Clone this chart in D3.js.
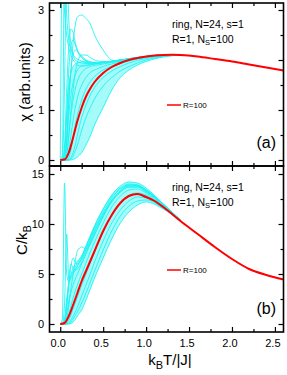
<!DOCTYPE html>
<html><head><meta charset="utf-8">
<script src="https://cdn.jsdelivr.net/npm/d3@7"></script>
<style>body{margin:0;background:#fff}svg{display:block}text{font-family:"Liberation Sans",Arial,sans-serif;fill:#000}</style>
</head><body><svg id="c" width="287" height="375"></svg>
<script>
// ---------- data ----------
const xTicks = [0, 0.5, 1.0, 1.5, 2.0, 2.5];
const xTickLabels = ["0.0", "0.5", "1.0", "1.5", "2.0", "2.5"];
const chiTicks = [0, 1, 2, 3];
const cTicks = [0, 5, 10, 15];

// red average curves (R=100)
const redChiT = [0, 0.05, 0.1, 0.15, 0.2, 0.25, 0.3, 0.35, 0.4, 0.5, 0.6, 0.7, 0.8, 0.9, 1.0, 1.1, 1.2, 1.3, 1.4, 1.6, 1.8, 2.0, 2.2, 2.4, 2.6];
const redChi  = [0, 0.01, 0.15, 0.45, 0.78, 1.05, 1.27, 1.43, 1.56, 1.74, 1.86, 1.94, 2.0, 2.04, 2.07, 2.09, 2.1, 2.105, 2.1, 2.07, 2.02, 1.97, 1.91, 1.85, 1.79];
const redCT = [0, 0.05, 0.1, 0.15, 0.2, 0.25, 0.3, 0.4, 0.5, 0.6, 0.7, 0.8, 0.9, 1.0, 1.1, 1.2, 1.4, 1.6, 1.8, 2.0, 2.2, 2.4, 2.6];
const redC  = [0, 0.1, 0.8, 1.9, 3.1, 4.3, 5.3, 7.3, 9.3, 10.9, 12.1, 12.8, 13.0, 12.7, 12.3, 11.7, 10.3, 9.0, 7.7, 6.5, 5.5, 4.9, 4.45];

// cyan single realisations (R=1), sampled on a shared temperature grid
const cyanT = [0, .025, .05, .075, .1, .125, .15, .175, .2, .25, .3, .35, .4, .5, .6, .7, .8, .9, 1.0, 1.2, 1.4];
const chiEnvLow  = [0, 0, 0, 0, 0, 0, 0.01, 0.03, 0.06, 0.15, 0.3, 0.48, 0.7, 1.05, 1.4, 1.65, 1.8, 1.9, 1.97, 2.06, 2.1];
const chiEnvHigh = [0, 0, 0.2, 0.9, 1.5, 1.75, 1.87, 1.92, 1.95, 1.96, 1.95, 1.94, 1.94, 1.95, 1.97, 1.99, 2.02, 2.04, 2.07, 2.1, 2.1];
const chiCyan = [
  [0, 0.1, 4.0, 2.9, 2.4, 2.2, 2.1, 2.05, 2.02, 1.98, 1.96, 1.95, 1.95, 1.96, 1.98, 2.0, 2.03, 2.05, 2.07, 2.1, 2.1],
  [0, 0, 1.5, 4.0, 2.8, 2.3, 2.1, 2.0, 1.97, 1.94, 1.93, 1.93, 1.94, 1.95, 1.97, 2.0, 2.02, 2.05, 2.07, 2.1, 2.1],
  [0, 4.0, 3.0, 2.5, 2.25, 2.1, 2.0, 1.95, 1.9, 1.88, 1.88, 1.9, 1.92, 1.95, 1.97, 2.0, 2.02, 2.05, 2.07, 2.1, 2.1],
  [0, 0, 0.05, 0.4, 1.2, 1.8, 2.35, 2.7, 2.86, 2.9, 2.83, 2.72, 2.5, 2.2, 2.0, 1.97, 2.0, 2.03, 2.06, 2.1, 2.1],
  [0, 0, 0.3, 1.4, 2.3, 2.62, 2.55, 2.35, 2.2, 2.05, 1.98, 1.95, 1.94, 1.95, 1.97, 2.0, 2.02, 2.05, 2.07, 2.1, 2.1],
  [0, 0, 0.1, 0.9, 1.8, 2.3, 2.4, 2.3, 2.18, 2.05, 1.98, 1.95, 1.94, 1.95, 1.97, 2.0, 2.02, 2.05, 2.07, 2.1, 2.1],
  [0, 0, 0, 0.4, 1.2, 1.8, 2.1, 2.2, 2.17, 2.08, 2.0, 1.97, 1.95, 1.95, 1.97, 2.0, 2.02, 2.05, 2.07, 2.1, 2.1],
  [0, 0, 0, 0.1, 0.5, 1.0, 1.4, 1.75, 1.95, 2.1, 2.1, 2.05, 2.0, 1.97, 1.97, 2.0, 2.02, 2.05, 2.07, 2.1, 2.1],
  [0, 0, 0.2, 0.9, 1.5, 1.75, 1.87, 1.92, 1.95, 1.96, 1.95, 1.94, 1.94, 1.95, 1.97, 1.99, 2.02, 2.04, 2.07, 2.1, 2.1],
  [0, 0, 0.02, 0.3, 0.9, 1.3, 1.55, 1.7, 1.8, 1.88, 1.9, 1.91, 1.92, 1.94, 1.96, 1.99, 2.02, 2.04, 2.06, 2.09, 2.1],
  [0, 0, 0, 0.1, 0.5, 0.9, 1.2, 1.42, 1.58, 1.75, 1.83, 1.87, 1.89, 1.92, 1.95, 1.98, 2.01, 2.04, 2.06, 2.09, 2.1],
  [0, 0, 0, 0.02, 0.2, 0.5, 0.8, 1.05, 1.25, 1.5, 1.65, 1.75, 1.8, 1.87, 1.92, 1.96, 2.0, 2.03, 2.06, 2.09, 2.1],
  [0, 0, 0, 0, 0.05, 0.2, 0.45, 0.7, 0.9, 1.2, 1.42, 1.57, 1.67, 1.8, 1.88, 1.93, 1.98, 2.02, 2.05, 2.09, 2.1],
  [0, 0, 0, 0, 0, 0.05, 0.15, 0.3, 0.5, 0.85, 1.1, 1.3, 1.45, 1.65, 1.78, 1.87, 1.94, 1.99, 2.03, 2.08, 2.1],
  [0, 0, 0, 0, 0, 0, 0.01, 0.03, 0.06, 0.15, 0.3, 0.48, 0.7, 1.05, 1.4, 1.65, 1.8, 1.9, 1.97, 2.06, 2.1],
  [0, 0, 0, 0, 0, 0.02, 0.08, 0.18, 0.3, 0.6, 0.85, 1.05, 1.22, 1.48, 1.65, 1.78, 1.87, 1.94, 2.0, 2.07, 2.1]
];
const cEnvLow  = [0, 0, 0, 0, 0, 0.05, 0.2, 0.45, 0.8, 1.4, 2.4, 3.5, 4.6, 6.6, 8.5, 10.1, 11.2, 11.9, 12.2, 11.5, 10.3];
const cEnvHigh = [0, 0, 0.5, 2.5, 4.0, 4.8, 5.3, 5.7, 6.1, 6.8, 7.8, 8.8, 9.8, 11.5, 12.9, 13.8, 14.2, 14.1, 13.6, 12.0, 10.4];
const cCyan = [
  [0, 0.5, 14.1, 5.0, 4.2, 4.6, 5.0, 5.4, 5.8, 6.6, 7.6, 8.6, 9.6, 11.2, 12.6, 13.5, 13.9, 13.8, 13.4, 12.0, 10.4],
  [0, 0, 2.0, 9.0, 4.5, 5.0, 5.6, 6.0, 6.3, 6.8, 7.8, 8.8, 9.8, 11.5, 12.8, 13.6, 14.0, 13.9, 13.4, 12.0, 10.4],
  [0, 0, 0.3, 2.0, 4.0, 5.8, 6.6, 6.2, 6.0, 6.5, 7.4, 8.4, 9.4, 11.0, 12.4, 13.3, 13.8, 13.8, 13.3, 11.9, 10.4],
  [0, 0, 0, 0.5, 1.8, 3.5, 5.0, 6.3, 7.3, 7.7, 7.5, 8.0, 8.9, 10.7, 12.2, 13.2, 13.7, 13.7, 13.2, 11.9, 10.4],
  [0, 0, 0.2, 1.5, 4.5, 6.0, 5.6, 5.4, 5.5, 6.2, 7.2, 8.2, 9.2, 10.9, 12.3, 13.2, 13.7, 13.7, 13.3, 11.9, 10.4],
  [0, 0, 0.5, 2.5, 4.0, 4.8, 5.3, 5.7, 6.1, 6.8, 7.8, 8.8, 9.8, 11.5, 12.9, 13.8, 14.2, 14.1, 13.6, 12.0, 10.4],
  [0, 0, 0.1, 1.0, 2.3, 3.2, 3.9, 4.5, 5.0, 6.0, 7.0, 8.0, 9.0, 10.8, 12.3, 13.3, 13.9, 13.9, 13.4, 11.9, 10.4],
  [0, 0, 0, 0.3, 1.0, 1.8, 2.6, 3.3, 3.9, 5.0, 6.1, 7.2, 8.2, 10.1, 11.7, 12.8, 13.4, 13.5, 13.1, 11.8, 10.4],
  [0, 0, 0, 0.05, 0.4, 0.9, 1.5, 2.1, 2.7, 3.9, 5.0, 6.1, 7.2, 9.2, 10.9, 12.1, 12.9, 13.1, 12.9, 11.7, 10.4],
  [0, 0, 0, 0, 0.1, 0.4, 0.8, 1.2, 1.7, 2.8, 3.9, 5.0, 6.2, 8.3, 10.1, 11.4, 12.3, 12.7, 12.6, 11.6, 10.3],
  [0, 0, 0, 0, 0, 0.05, 0.2, 0.45, 0.8, 1.4, 2.4, 3.5, 4.6, 6.6, 8.5, 10.1, 11.2, 11.9, 12.2, 11.5, 10.3],
  [0, 0, 0, 0, 0.02, 0.2, 0.5, 0.85, 1.2, 2.1, 3.1, 4.2, 5.3, 7.4, 9.3, 10.8, 11.8, 12.3, 12.4, 11.6, 10.3]
];
const annot1 = "ring, N=24, s=1";
const legendLabel = "R=100";

// ---------- layout ----------
const svg = d3.select("#c");
const L = 49.5, R = 283.5;
const x = d3.scaleLinear().domain([-0.125, 2.6]).range([L, R]);
const panels = [
  {top: 3, bottom: 166, y: d3.scaleLinear().domain([-0.12, 3.14]).range([166, 3]),
   ticks: chiTicks, minor: 0.5, env: [chiEnvLow, chiEnvHigh], cyan: chiCyan, redT: redChiT, red: redChi, tag: "(a)", id: "a"},
  {top: 166, bottom: 332, y: d3.scaleLinear().domain([-0.8, 15.8]).range([332, 166]),
   ticks: cTicks, minor: 2.5, env: [cEnvLow, cEnvHigh], cyan: cCyan, redT: redCT, red: redC, tag: "(b)", id: "b"}
];
const cyanCol = "#1ff3f3";

panels.forEach(p => {
  const y = p.y;
  const g = svg.append("g");
  g.append("clipPath").attr("id", "clip" + p.id).append("rect")
    .attr("x", L).attr("y", p.top).attr("width", R - L).attr("height", p.bottom - p.top);
  const plot = g.append("g").attr("clip-path", `url(#clip${p.id})`);
  const area = d3.area().x((d, i) => x(cyanT[i])).y0((d, i) => y(p.env[0][i])).y1((d, i) => y(p.env[1][i])).curve(d3.curveMonotoneX);
  plot.append("path").attr("d", area(cyanT)).attr("fill", cyanCol).attr("opacity", 0.4);
  const line = d3.line().x((d, i) => x(cyanT[i])).y(d => y(d)).curve(d3.curveMonotoneX);
  p.cyan.forEach(c => plot.append("path").attr("d", line(c)).attr("fill", "none").attr("stroke", cyanCol).attr("stroke-width", 0.9));
  const rline = d3.line().x((d, i) => x(p.redT[i])).y(d => y(d)).curve(d3.curveMonotoneX);
  plot.append("path").attr("d", rline(p.red)).attr("fill", "none").attr("stroke", "#ff0000").attr("stroke-width", 2);

  // frame
  g.append("rect").attr("x", L).attr("y", p.top).attr("width", R - L).attr("height", p.bottom - p.top)
    .attr("fill", "none").attr("stroke", "#000").attr("stroke-width", 1.6);

  // y ticks (inward, both sides)
  const yMaj = p.ticks, yMin = d3.range(0, y.domain()[1], p.minor).filter(v => !yMaj.includes(v));
  const yAxL = d3.axisRight(y).tickValues(yMaj).tickSize(5).tickFormat("");
  const yAxLm = d3.axisRight(y).tickValues(yMin).tickSize(3).tickFormat("");
  const yAxR = d3.axisLeft(y).tickValues(yMaj).tickSize(5).tickFormat("");
  const yAxRm = d3.axisLeft(y).tickValues(yMin).tickSize(3).tickFormat("");
  [[yAxL, L], [yAxLm, L], [yAxR, R], [yAxRm, R]].forEach(([ax, px]) => {
    const a = g.append("g").attr("transform", `translate(${px},0)`).call(ax);
    a.select(".domain").remove();
    a.selectAll("line").attr("stroke-width", 1.2);
  });
  // y tick labels
  g.selectAll(".yl").data(yMaj).enter().append("text")
    .attr("x", 44).attr("y", d => y(d) + 4).attr("text-anchor", "end").attr("font-size", 11).text(d => d);

  // x ticks (inward, top and bottom)
  const xMin = [0.25, 0.75, 1.25, 1.75, 2.25];
  [[d3.axisTop(x).tickValues(xTicks).tickSize(5), p.bottom], [d3.axisTop(x).tickValues(xMin).tickSize(3), p.bottom],
   [d3.axisBottom(x).tickValues(xTicks).tickSize(5), p.top], [d3.axisBottom(x).tickValues(xMin).tickSize(3), p.top]]
  .forEach(([ax, py]) => {
    const a = g.append("g").attr("transform", `translate(0,${py})`).call(ax.tickFormat(""));
    a.select(".domain").remove();
    a.selectAll("line").attr("stroke-width", 1.2);
  });

  // annotations
  const t0 = p.top;
  g.append("text").attr("x", 172).attr("y", t0 + 25).attr("font-size", 10.5).text(annot1);
  const t2 = g.append("text").attr("x", 172).attr("y", t0 + 40).attr("font-size", 10.5);
  t2.append("tspan").text("R=1, N");
  t2.append("tspan").attr("font-size", 7.5).attr("dy", 2).text("S");
  t2.append("tspan").attr("dy", -2).text("=100");
  const ly = p.id === "a" ? 105 : 270;
  g.append("line").attr("x1", 167).attr("x2", 181).attr("y1", ly).attr("y2", ly).attr("stroke", "#ff0000").attr("stroke-width", 1.5);
  g.append("text").attr("x", 183).attr("y", ly + 3).attr("font-size", 8).text(legendLabel);
  g.append("text").attr("x", 276).attr("y", p.bottom - 18).attr("text-anchor", "end").attr("font-size", 16).text(p.tag);
});

// x tick labels
svg.selectAll(".xl").data(xTicks).enter().append("text")
  .attr("x", d => x(d) - 2).attr("y", 347).attr("text-anchor", "middle").attr("font-size", 11)
  .text((d, i) => xTickLabels[i]);

// axis titles
svg.append("text").attr("transform", "translate(30,82) rotate(-90)").attr("text-anchor", "middle").attr("font-size", 15)
  .text("χ (arb.units)");
const ct = svg.append("text").attr("transform", "translate(27,240) rotate(-90)").attr("text-anchor", "middle").attr("font-size", 15);
ct.append("tspan").text("C/k");
ct.append("tspan").attr("font-size", 11).attr("dy", 4).text("B");
const xt = svg.append("text").attr("x", 170).attr("y", 365).attr("text-anchor", "middle").attr("font-size", 15);
xt.append("tspan").text("k");
xt.append("tspan").attr("font-size", 11).attr("dy", 4).text("B");
xt.append("tspan").attr("dy", -4).text("T/|J|");
</script></body></html>
